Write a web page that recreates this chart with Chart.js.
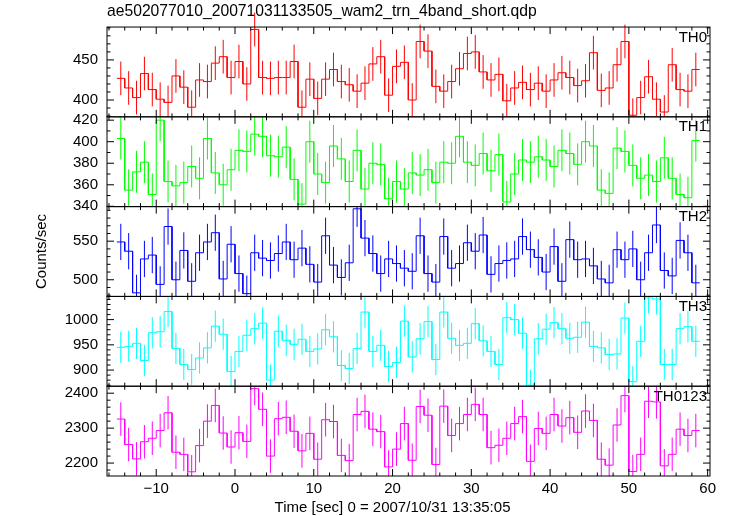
<!DOCTYPE html>
<html>
<head>
<meta charset="utf-8">
<script src="https://cdn.jsdelivr.net/npm/chart.js@4.4.0/dist/chart.umd.min.js"></script>
<style>
  html, body { margin: 0; background: #fff; }
  #wrap { position: relative; width: 730px; height: 516px; }
</style>
</head>
<body>
<div id="wrap"><canvas id="lc" width="730" height="516"></canvas></div>
<script>
// 1 s bins, first bin starts at t = -15 s
const binStart = -15;
const binWidth = 1;

const th0 = [427, 415, 403, 433, 413, 401, 397, 430, 416, 391, 425, 423, 446, 454, 428, 448, 420, 488, 428, 427,
  428, 428, 448, 391, 426, 402, 426, 438, 423, 419, 411, 421, 445, 454, 406, 442, 447, 400, 473, 461,
  417, 411, 423, 439, 458, 460, 435, 425, 432, 399, 415, 422, 413, 421, 411, 425, 434, 428, 418, 424,
  459, 412, 415, 444, 473, 381, 403, 429, 401, 385, 444, 413, 411, 438];
const th1 = [403, 355, 372, 381, 351, 420, 363, 359, 362, 377, 366, 403, 371, 360, 374, 392, 391, 407, 405, 387,
  386, 395, 365, 342, 400, 370, 362, 396, 384, 363, 392, 356, 380, 379, 347, 363, 356, 371, 369, 374,
  362, 381, 380, 405, 381, 378, 389, 373, 388, 344, 370, 383, 381, 386, 383, 377, 392, 389, 379, 400,
  396, 355, 352, 394, 391, 378, 366, 369, 363, 385, 366, 351, 348, 401];
const th2 = [549, 537, 483, 527, 532, 494, 569, 500, 538, 498, 535, 549, 561, 501, 546, 508, 482, 535, 528, 525,
  534, 549, 526, 541, 520, 497, 557, 519, 503, 522, 592, 554, 534, 508, 527, 521, 515, 511, 557, 508,
  497, 556, 515, 521, 548, 537, 558, 507, 521, 525, 527, 556, 539, 529, 510, 543, 498, 552, 526, 527,
  518, 501, 496, 539, 526, 540, 500, 535, 571, 512, 505, 551, 535, 496];
const th3 = [945, 947, 953, 919, 974, 976, 1016, 943, 911, 901, 924, 944, 987, 971, 897, 937, 969, 982, 993, 880,
  977, 959, 951, 961, 937, 942, 980, 966, 909, 903, 943, 1015, 937, 949, 907, 915, 997, 926, 962, 996,
  921, 1015, 963, 949, 953, 992, 958, 937, 911, 1004, 1000, 973, 870, 962, 981, 994, 982, 963, 965, 995,
  947, 944, 931, 932, 1003, 877, 957, 1043, 1041, 911, 911, 982, 986, 957];
const th0123 = [2326, 2253, 2212, 2261, 2271, 2293, 2344, 2231, 2225, 2175, 2250, 2320, 2365, 2286, 2246, 2287, 2262, 2413, 2354, 2220,
  2327, 2331, 2291, 2235, 2285, 2211, 2324, 2319, 2222, 2207, 2339, 2348, 2297, 2290, 2189, 2240, 2313, 2208, 2362, 2337,
  2196, 2363, 2279, 2313, 2339, 2368, 2339, 2244, 2251, 2271, 2313, 2333, 2205, 2299, 2285, 2339, 2306, 2330, 2288, 2349,
  2322, 2211, 2194, 2309, 2393, 2176, 2225, 2377, 2375, 2192, 2225, 2297, 2279, 2293];

// typical 1-sigma error bar half-length per band
const bandErrors = [21, 19.5, 23.5, 31, 48];
const bandNames = ["TH0", "TH1", "TH2", "TH3", "TH0123"];
const bandValues = [th0, th1, th2, th3, th0123];

const xTickValues = [-10, 0, 10, 20, 30, 40, 50, 60];
const yTicks0 = [400, 450];
const yTicks1 = [340, 360, 380, 400, 420];
const yTicks2 = [500, 550];
const yTicks3 = [900, 950, 1000];
const yTicks4 = [2200, 2300, 2400];
const yTickLists = [yTicks0, yTicks1, yTicks2, yTicks3, yTicks4];

const xTitle = "Time [sec] 0 = 2007/10/31 13:35:05";

// styling / geometry
const colors = ["#ff0000", "#00ff00", "#0000ff", "#00ffff", "#ff00ff"];
const yRanges = [[379, 491], [339.7, 423.1], [478.4, 594.8], [868, 1046], [2163, 2420]];
const yMinor = [10, 10, 10, 10, 20];
const xMinor = 2;
const fontFamily = '"Liberation Sans", Arial, Helvetica, sans-serif';
const font15 = { family: fontFamily, size: 15 };

function stepPoints(vals) {
  const pts = [];
  vals.forEach((v, i) => {
    pts.push({ x: binStart + i * binWidth, y: v });
    pts.push({ x: binStart + (i + 1) * binWidth, y: v });
  });
  return pts;
}

const datasets = bandValues.map((vals, k) => ({
  label: bandNames[k],
  data: stepPoints(vals),
  yAxisID: "y" + k,
  borderColor: colors[k],
  borderWidth: 1,
  pointRadius: 0,
  fill: false,
  tension: 0,
}));

const scales = {
  x: {
    type: "linear",
    position: "bottom",
    min: -16.25,
    max: 60.3,
    grid: { display: false, drawTicks: false },
    border: { display: false },
    ticks: {
      color: "#000",
      font: font15,
      padding: 4,
      maxRotation: 0,
      autoSkip: false,
      callback: (v) => String(v).replace("-", "\u2212"),
    },
    afterBuildTicks: (s) => { s.ticks = xTickValues.map((v) => ({ value: v })); },
    afterFit: (s) => { s.height = 40; },
  },
};

bandNames.forEach((name, k) => {
  scales["y" + k] = {
    type: "linear",
    position: "left",
    stack: "panels",
    stackWeight: 1,
    weight: 4 - k,
    min: yRanges[k][0],
    max: yRanges[k][1],
    grid: { display: false, drawTicks: false },
    border: { display: false },
    ticks: {
      color: "#000",
      font: font15,
      padding: 9,
      autoSkip: false,
      callback: (v) => String(v),
    },
    afterBuildTicks: (s) => { s.ticks = yTickLists[k].map((v) => ({ value: v })); },
    afterFit: (s) => { s.width = 107; },
    title: {
      display: k === 2,
      text: "Counts/sec",
      color: "#000",
      font: font15,
      padding: { top: 33, bottom: 0 },
    },
  };
});

// error bars, panel frames, inward tick marks and band names
const panelFrame = {
  id: "panelFrame",
  beforeDatasetsDraw(chart) {
    const ctx = chart.ctx;
    const area = chart.chartArea;
    const xs = chart.scales.x;
    bandValues.forEach((vals, k) => {
      const ys = chart.scales["y" + k];
      const err = bandErrors[k];
      ctx.save();
      ctx.beginPath();
      const top = k === 0 ? 0 : ys.top;
      ctx.rect(area.left, top, area.right - area.left, ys.bottom - top);
      ctx.clip();
      ctx.strokeStyle = colors[k];
      ctx.lineWidth = 1;
      ctx.beginPath();
      vals.forEach((v, i) => {
        const cx = xs.getPixelForValue(binStart + (i + 0.5) * binWidth);
        ctx.moveTo(cx, ys.getPixelForValue(v - err));
        ctx.lineTo(cx, ys.getPixelForValue(v + err));
      });
      ctx.stroke();
      ctx.restore();
    });
  },
  afterDraw(chart) {
    const ctx = chart.ctx;
    const area = chart.chartArea;
    const xs = chart.scales.x;
    const majorLen = 7;
    const minorLen = 3.5;
    ctx.save();
    ctx.strokeStyle = "#000";
    ctx.lineWidth = 1;
    bandNames.forEach((name, k) => {
      const ys = chart.scales["y" + k];
      ctx.strokeRect(area.left, ys.top, area.right - area.left, ys.bottom - ys.top);
      ctx.beginPath();
      for (let t = Math.ceil(xs.min / xMinor) * xMinor; t <= xs.max; t += xMinor) {
        const px = xs.getPixelForValue(t);
        const len = t % 10 === 0 ? majorLen : minorLen;
        ctx.moveTo(px, ys.top);
        ctx.lineTo(px, ys.top + len);
        ctx.moveTo(px, ys.bottom);
        ctx.lineTo(px, ys.bottom - len);
      }
      const step = yMinor[k];
      for (let v = Math.ceil(ys.min / step) * step; v <= ys.max; v += step) {
        const py = ys.getPixelForValue(v);
        const len = yTickLists[k].includes(v) ? majorLen : minorLen;
        ctx.moveTo(area.left, py);
        ctx.lineTo(area.left + len, py);
        ctx.moveTo(area.right, py);
        ctx.lineTo(area.right - len, py);
      }
      ctx.stroke();
      ctx.fillStyle = "#000";
      ctx.font = "15px " + fontFamily;
      ctx.textAlign = "right";
      ctx.textBaseline = "top";
      ctx.fillText(name, area.right - 3, ys.top + 3);
    });
    // x-axis title sits a little left of the plot centre in the original
    ctx.textAlign = "center";
    ctx.textBaseline = "middle";
    ctx.fillText(xTitle, xs.getPixelForValue(20), xs.bottom - 8);
    ctx.restore();
  },
};

new Chart(document.getElementById("lc"), {
  type: "line",
  data: { datasets },
  options: {
    responsive: false,
    animation: false,
    devicePixelRatio: 1,
    layout: { padding: { left: 0, right: 20, top: 0, bottom: 0 } },
    plugins: {
      legend: { display: false },
      tooltip: { enabled: false },
      title: {
        display: true,
        text: "ae502077010_20071031133505_wam2_trn_4band_short.qdp",
        align: "start",
        fullSize: false,
        color: "#000",
        font: { family: fontFamily, size: 15.7, weight: "normal" },
        padding: { top: 2, bottom: 6.2 },
      },
    },
    scales,
  },
  plugins: [panelFrame],
});
</script>
</body>
</html>
